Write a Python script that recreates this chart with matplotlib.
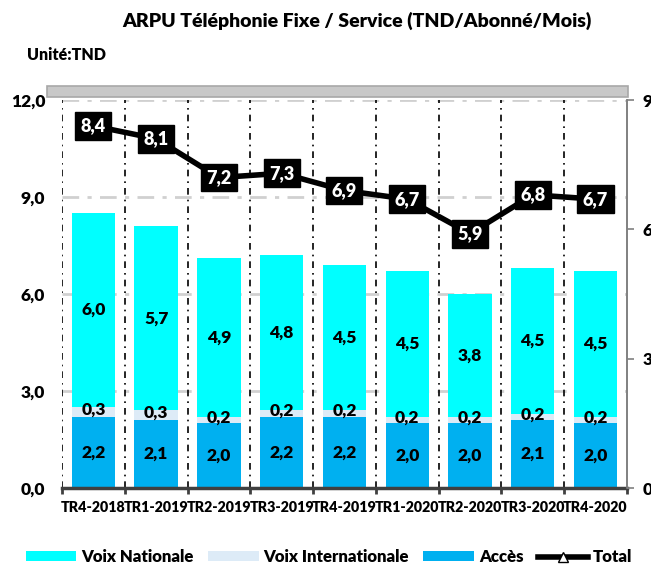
import matplotlib.pyplot as plt
from matplotlib.patches import Patch, Rectangle
from matplotlib.lines import Line2D
from matplotlib.ticker import FixedLocator, FuncFormatter

plt.rcParams['font.family'] = ['Lato', 'DejaVu Sans']
plt.rcParams['font.weight'] = 'bold'

periods = ['TR4-2018', 'TR1-2019', 'TR2-2019', 'TR3-2019', 'TR4-2019',
           'TR1-2020', 'TR2-2020', 'TR3-2020', 'TR4-2020']
acces = [2.2, 2.1, 2.0, 2.2, 2.2, 2.0, 2.0, 2.1, 2.0]
voix_inter = [0.3, 0.3, 0.2, 0.2, 0.2, 0.2, 0.2, 0.2, 0.2]
voix_nat = [6.0, 5.7, 4.9, 4.8, 4.5, 4.5, 3.8, 4.5, 4.5]
total = [8.4, 8.1, 7.2, 7.3, 6.9, 6.7, 5.9, 6.8, 6.7]

c_nat = '#00FFFF'
c_inter = '#DDEBF7'
c_acces = '#00B0F0'


def fr(v, pos=None):
    return f'{v:.1f}'.replace('.', ',')


fig = plt.figure(figsize=(6.51, 5.68), dpi=100)
ax = fig.add_axes([0.0952, 0.1408, 0.8678, 0.6832])
x = list(range(len(periods)))

ax.bar(x, acces, width=0.69, color=c_acces, zorder=3)
ax.bar(x, voix_inter, width=0.69, bottom=acces, color=c_inter, zorder=3)
bottom3 = [a + b for a, b in zip(acces, voix_inter)]
ax.bar(x, voix_nat, width=0.69, bottom=bottom3, color=c_nat, zorder=3)

lbl = dict(ha='center', va='center', fontsize=12.5, fontweight='heavy', zorder=5)
for i in x:
    ax.text(i, acces[i] / 2, fr(acces[i]), **lbl)
    ax.text(i, acces[i] + voix_inter[i] / 2 + 0.08, fr(voix_inter[i]), **lbl)
    ax.text(i, bottom3[i] + voix_nat[i] / 2, fr(voix_nat[i]), **lbl)

ax.set_xlim(-0.5, len(periods) - 0.5)
ax.set_ylim(0, 12)
ax.yaxis.set_major_locator(FixedLocator([0, 3, 6, 9, 12]))
ax.yaxis.set_major_formatter(FuncFormatter(fr))
ax.tick_params(axis='y', length=0, pad=12, labelsize=12.5)
ax.set_xticks(x)
ax.set_xticklabels(periods, fontsize=10.3, fontweight='heavy')
ax.tick_params(axis='x', length=0, pad=9)
ax.xaxis.set_minor_locator(FixedLocator([i - 0.5 for i in range(len(periods) + 1)]))
ax.tick_params(axis='x', which='minor', length=4, width=2, color='#404040')
for t in ax.get_yticklabels():
    t.set_fontweight('heavy')

for s in ['top', 'left']:
    ax.spines[s].set_visible(False)
ax.spines['right'].set_color('#808080')
ax.spines['right'].set_linewidth(1.2)
ax.spines['bottom'].set_color('#404040')
ax.spines['bottom'].set_linewidth(2.5)
ax.spines['bottom'].set_zorder(6)

for yv in [3, 6, 9, 12]:
    ax.axhline(yv, color='#D0D0D0', lw=2, ls=(0, (6, 3, 1.5, 3)), zorder=1)
for i in range(len(periods)):
    ax.axvline(i - 0.5, color='black', lw=1.2, ls=(0, (4, 3, 1, 3)), zorder=2)

ax2 = ax.twinx()
ax2.set_ylim(0, 9)
ax2.yaxis.set_major_locator(FixedLocator([0, 3, 6, 9]))
ax2.yaxis.set_major_formatter(FuncFormatter(fr))
ax2.tick_params(axis='y', length=5, width=1.2, color='#808080', pad=6, labelsize=12.5)
for t in ax2.get_yticklabels():
    t.set_fontweight('heavy')
for s in ['top', 'left', 'bottom']:
    ax2.spines[s].set_visible(False)
ax2.spines['right'].set_color('#808080')
ax2.spines['right'].set_linewidth(1.2)
ax2.plot(x, total, color='black', lw=4, marker='^', markersize=7,
         markerfacecolor='white', markeredgecolor='black', zorder=4)
for i in x:
    ax2.text(i, total[i], fr(total[i]), ha='center', va='center', color='white',
             fontsize=13, fontweight='heavy', zorder=6,
             bbox=dict(boxstyle='square,pad=0.3', facecolor='black', edgecolor='black'))

# gray band above the plot
fig.patches.append(Rectangle((47 / 651, 1 - 97 / 568), 581 / 651, 11 / 568,
                             transform=fig.transFigure, facecolor='#C8C8C8',
                             edgecolor='#A8A8A8', lw=1.2))

fig.text(0.548, 0.963, 'ARPU Téléphonie Fixe / Service (TND/Abonné/Mois)',
         ha='center', va='center', fontsize=14, fontweight='heavy')
fig.text(0.041, 0.903, 'Unité:TND', ha='left', va='center', fontsize=11.5,
         fontweight='heavy')

handles = [Patch(facecolor=c_nat), Patch(facecolor=c_inter), Patch(facecolor=c_acces),
           Line2D([0], [0], color='black', lw=4, marker='^', markersize=7,
                  markerfacecolor='white', markeredgecolor='black')]
fig.legend(handles, ['Voix Nationale', 'Voix Internationale', 'Accès', 'Total'],
           loc='center left', bbox_to_anchor=(0.04, 0.019), ncol=4, frameon=False,
           prop={'size': 12.1, 'weight': 'heavy'}, handlelength=3.0, handleheight=0.55,
           handletextpad=0.3, columnspacing=0.85, borderpad=0, borderaxespad=0)

fig.savefig('out.png', dpi=100)
